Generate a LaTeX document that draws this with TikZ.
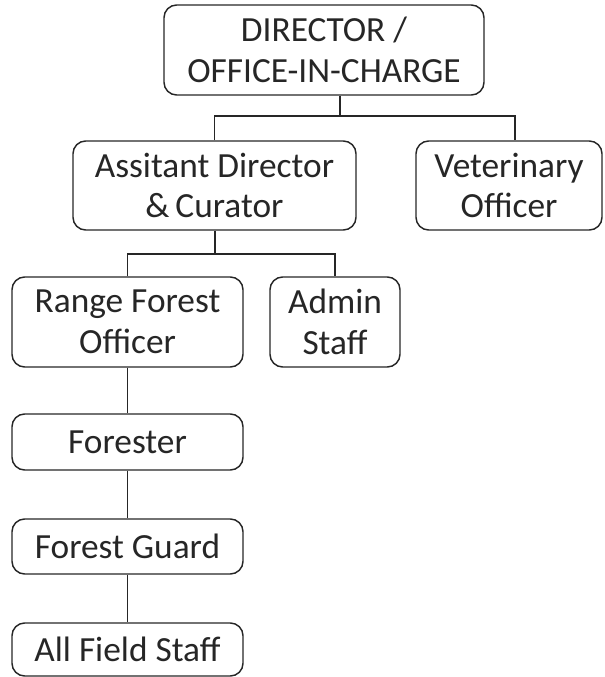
\documentclass[tikz,border=0pt]{standalone}
\usepackage{fontspec}
\setmainfont{Carlito}
\usetikzlibrary{calc}
\definecolor{ink}{HTML}{262626}
\tikzset{
  box/.style={draw=ink, line width=1.1pt, rounded corners=9.5pt, rectangle, align=center,
    text=ink, inner sep=0pt, font=\fontsize{26.5pt}{30.5pt}\selectfont},
  link/.style={draw=ink, line width=1.1pt}
}
\begin{document}
\begin{tikzpicture}[x=0.75pt, y=-0.75pt]
\useasboundingbox (0,0) rectangle (605,677);
% boxes: centre, width, height in px
\node[box, minimum width=320*0.75pt, minimum height=90*0.75pt] (top) at (324,50) {DIRECTOR /\\OFFICE-IN-CHARGE};
\node[box, minimum width=283*0.75pt, minimum height=89*0.75pt] (asst) at (214.5,185.5) {Assitant Director\\\&\,Curator};
\node[box, minimum width=186*0.75pt, minimum height=89*0.75pt] (vet) at (509,185.5) {Veterinary\\Officer};
\node[box, minimum width=231*0.75pt, minimum height=90*0.75pt] (range) at (127.5,322) {Range Forest\\Officer};
\node[box, minimum width=130*0.75pt, minimum height=90*0.75pt] (admin) at (335,322) {Admin\\Staff};
\node[box, minimum width=231*0.75pt, minimum height=56*0.75pt] (forester) at (127.5,442) {Forester};
\node[box, minimum width=231*0.75pt, minimum height=55*0.75pt] (guard) at (127.5,546.5) {Forest Guard};
\node[box, minimum width=231*0.75pt, minimum height=53*0.75pt] (field) at (127.5,649.5) {All Field Staff};
% junctions
\coordinate (j1) at (340,116);
\coordinate (j2) at (215,254);
\draw[link] (top.south -| j1) -- (j1);
\draw[link] (asst.north) |- (j1) -| ([xshift=4.5pt]vet.north);
\draw[link] (asst.south -| j2) -- (j2);
\draw[link] (range.north) |- (j2) -| (admin.north);
\draw[link] (range) -- (forester);
\draw[link] (forester) -- (guard);
\draw[link] (guard) -- (field);
\end{tikzpicture}
\end{document}
